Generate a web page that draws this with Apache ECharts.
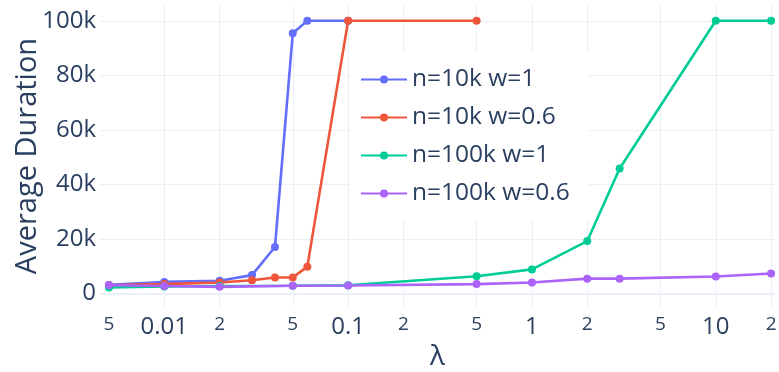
<!DOCTYPE html>
<html><head><meta charset="utf-8">
<script src="https://cdn.jsdelivr.net/npm/echarts@6/dist/echarts.min.js"></script>
<style>html,body{margin:0;padding:0;background:#fff}#c{width:779px;height:372px}</style>
</head><body><div id="c"></div>
<script>
const seriesNames = ['n=10k w=1', 'n=10k w=0.6', 'n=100k w=1', 'n=100k w=0.6'];
const seriesColors = ['#636efa', '#EF553B', '#00cc96', '#ab63fa'];

const xBlue = [0.005, 0.01, 0.02, 0.03, 0.04, 0.05, 0.06, 0.1];
const yBlue = [3100, 4200, 4600, 6700, 17000, 95400, 100000, 100000];

const xRed = [0.005, 0.01, 0.02, 0.03, 0.04, 0.05, 0.06, 0.1, 0.5];
const yRed = [3000, 3400, 4000, 4800, 5800, 5800, 9800, 100000, 100000];

const xGreen = [0.005, 0.01, 0.02, 0.05, 0.1, 0.5, 1, 2, 3, 10, 20];
const yGreen = [2200, 2500, 2700, 2800, 3000, 6300, 8800, 19200, 45800, 100000, 100000];

const xPurple = [0.005, 0.01, 0.02, 0.05, 0.1, 0.5, 1, 2, 3, 10, 20];
const yPurple = [3000, 2700, 2400, 2800, 2900, 3400, 4000, 5400, 5400, 6200, 7300];

const xTickValues = [0.005, 0.01, 0.02, 0.05, 0.1, 0.2, 0.5, 1, 2, 5, 10, 20];
const xTickLabels = ['5', '0.01', '2', '5', '0.1', '2', '5', '1', '2', '5', '10', '2'];
const xTickMajor = [false, true, false, false, true, false, false, true, false, false, true, false];

const yTickValues = [0, 20000, 40000, 60000, 80000, 100000];
const yTickLabels = ['0', '20k', '40k', '60k', '80k', '100k'];

const xTitle = 'λ';
const yTitle = 'Average Duration';

const xs = [xBlue, xRed, xGreen, xPurple];
const ys = [yBlue, yRed, yGreen, yPurple];

function nearestIdx(arr, v) {
  let best = 0, bd = Infinity;
  arr.forEach((a, i) => { const d = Math.abs(Math.log(a) - Math.log(v)); if (d < bd) { bd = d; best = i; } });
  return bd < 1e-3 ? best : -1;
}

const FONT = '"Open Sans", "Noto Sans", sans-serif';
const TXT = '#2a3f5f';
const GRID = '#EBF0F8';

const chart = echarts.init(document.getElementById('c'));
const dataSeries = seriesNames.map((n, k) => ({
  name: n,
  type: 'line',
  data: xs[k].map((x, i) => [x, ys[k][i]]),
  symbol: 'circle',
  symbolSize: 8,
  showSymbol: true,
  color: seriesColors[k],
  lineStyle: { width: 2.6, color: seriesColors[k] },
  itemStyle: { color: seriesColors[k] },
  z: 3
}));

const gridSeries = {
  name: '_grid',
  type: 'line',
  data: [],
  silent: true,
  z: 1,
  markLine: {
    silent: true,
    animation: false,
    z: 1,
    symbol: ['none', 'none'],
    label: { show: false },
    lineStyle: { color: GRID, width: 1, type: 'solid' },
    emphasis: { disabled: true },
    data: xTickValues.map(v => ({ xAxis: v })).concat([{ yAxis: 0, lineStyle: { color: GRID, width: 2, type: 'solid' } }])
  }
};

chart.setOption({
  animation: false,
  backgroundColor: '#fff',
  textStyle: { fontFamily: FONT, color: TXT },
  grid: { left: 100, right: 4, top: 5, bottom: 65, containLabel: false, outerBoundsMode: 'none' },
  legend: {
    data: seriesNames,
    orient: 'vertical',
    left: 350, top: 52,
    z: 20,
    backgroundColor: '#fff',
    padding: [15, 19, 14, 10],
    itemWidth: 46, itemHeight: 10, itemGap: 13,
    textStyle: { fontFamily: FONT, fontSize: 24.5, color: TXT, lineHeight: 24 }
  },
  xAxis: {
    type: 'log', logBase: 10,
    min: 0.00447, max: 21,
    name: xTitle, nameLocation: 'middle', nameGap: 36,
    nameMoveOverlap: false,
    nameTextStyle: { fontFamily: FONT, fontSize: 28, color: TXT },
    axisLine: { show: false }, axisTick: { show: false },
    splitLine: { show: false },
    axisLabel: {
      customValues: xTickValues,
      margin: 8,
      verticalAlign: 'top',
      showMinLabel: true, showMaxLabel: true,
      formatter: function (v) {
        const i = nearestIdx(xTickValues, v);
        if (i < 0) return '';
        return xTickMajor[i] ? '{a|' + xTickLabels[i] + '}' : '{b|' + xTickLabels[i] + '}';
      },
      rich: {
        a: { fontFamily: FONT, fontSize: 24, color: TXT },
        b: { fontFamily: FONT, fontSize: 19, color: TXT }
      }
    }
  },
  yAxis: {
    type: 'value',
    min: -5000, max: 105800,
    splitNumber: 5,
    name: yTitle, nameLocation: 'middle', nameGap: 58,
    nameMoveOverlap: false,
    nameTextStyle: { fontFamily: FONT, fontSize: 29, color: TXT },
    axisLine: { show: false }, axisTick: { show: false },
    splitLine: { show: true, showMinLine: false, showMaxLine: false, lineStyle: { color: GRID, width: 1 } },
    axisLabel: {
      margin: 4,
      showMinLabel: false, showMaxLabel: false,
      fontFamily: FONT, fontSize: 24, color: TXT,
      formatter: function (v) {
        const i = yTickValues.indexOf(Math.round(v));
        return i < 0 ? '' : yTickLabels[i];
      }
    }
  },
  series: [gridSeries].concat(dataSeries)
});
</script>
</body></html>
